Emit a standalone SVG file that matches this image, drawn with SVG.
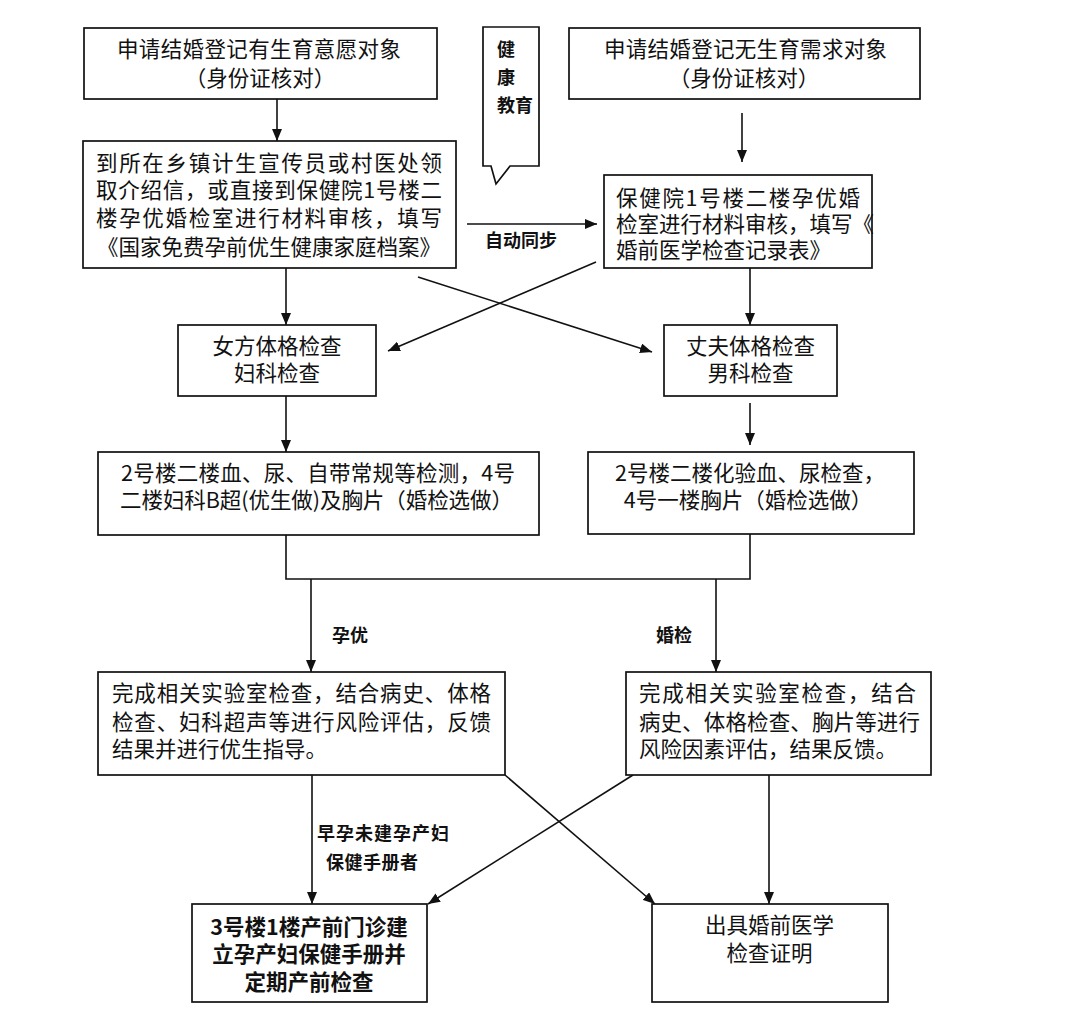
<svg xmlns="http://www.w3.org/2000/svg" width="1071" height="1020" viewBox="0 0 1071 1020">
<style>
  .box { fill: #ffffff; stroke: #111111; stroke-width: 1.7; }
  .t { font-family: "Noto Sans CJK SC", "Noto Sans", sans-serif; font-size: 21.5px; fill: #111111; }
  .c { text-anchor: middle; }
  .b { font-family: "Noto Sans CJK SC", "Noto Sans", sans-serif; font-size: 18px; font-weight: bold; fill: #111111; }
  .bb { font-family: "Noto Sans CJK SC", "Noto Sans", sans-serif; font-size: 21.5px; font-weight: bold; fill: #111111; text-anchor: middle; }
  .ln { fill: none; stroke: #111111; stroke-width: 1.6; }
  .ar { fill: none; stroke: #111111; stroke-width: 1.6; marker-end: url(#ah); }
</style>
<defs>
  <marker id="ah" viewBox="0 0 12 10" refX="12" refY="5" markerWidth="12" markerHeight="10" markerUnits="userSpaceOnUse" orient="auto">
    <path d="M0,0 L12,5 L0,10 z" fill="#111111"/>
  </marker>
</defs>
<rect width="1071" height="1020" fill="#ffffff"/>

<g id="connectors">
  <line class="ar" x1="277" y1="99" x2="277" y2="141"/>
  <line class="ar" x1="742" y1="113" x2="742" y2="162"/>
  <line class="ar" x1="467" y1="224" x2="597" y2="224"/>
  <line class="ar" x1="286" y1="268" x2="286" y2="325"/>
  <line class="ar" x1="750" y1="268" x2="750" y2="325"/>
  <line class="ar" x1="418" y1="277" x2="652" y2="352"/>
  <line class="ar" x1="596" y1="262" x2="388" y2="351"/>
  <line class="ar" x1="286" y1="396" x2="286" y2="452"/>
  <line class="ar" x1="750" y1="403" x2="750" y2="445"/>
  <polyline class="ln" points="286,535 286,579 750,579 750,534"/>
  <line class="ar" x1="311" y1="579" x2="311" y2="672"/>
  <line class="ar" x1="716" y1="579" x2="716" y2="672"/>
  <line class="ar" x1="312" y1="775" x2="312" y2="904"/>
  <line class="ar" x1="505" y1="775" x2="655" y2="904"/>
  <line class="ar" x1="633" y1="775" x2="428" y2="904"/>
  <line class="ar" x1="769" y1="775" x2="769" y2="904"/>
  <text class="b" x="485" y="247" textLength="72">自动同步</text>
  <text class="b" x="332" y="642">孕优</text>
  <text class="b" x="656" y="642">婚检</text>
  <text class="b" x="317" y="840" textLength="132">早孕未建孕产妇</text>
  <text class="b" x="326" y="868.5" textLength="92">保健手册者</text>
</g>

<g id="n1">
  <rect class="box" x="84" y="28" width="353" height="71"/>
  <text class="t" x="117" y="57" textLength="284">申请结婚登记有生育意愿对象</text>
  <text class="t c" x="260" y="86">（身份证核对）</text>
</g>

<g id="n-health">
  <path class="box" d="M483,27 L539,27 L539,166 L510,166 L496,184 L491,166 L483,166 Z"/>
  <text class="b" x="497" y="56">健</text>
  <text class="b" x="497" y="84">康</text>
  <text class="b" x="497" y="112">教育</text>
</g>

<g id="n2">
  <rect class="box" x="569" y="28" width="351" height="71"/>
  <text class="t" x="604" y="57" textLength="283">申请结婚登记无生育需求对象</text>
  <text class="t c" x="744" y="86">（身份证核对）</text>
</g>

<g id="n3">
  <rect class="box" x="83" y="141" width="373" height="127"/>
  <text class="t" x="96" y="171" textLength="346">到所在乡镇计生宣传员或村医处领</text>
  <text class="t" x="96" y="198" textLength="346">取介绍信，或直接到保健院1号楼二</text>
  <text class="t" x="96" y="226" textLength="346">楼孕优婚检室进行材料审核，填写</text>
  <text class="t" x="97" y="254.5" textLength="344">《国家免费孕前优生健康家庭档案》</text>
</g>

<g id="n4">
  <rect class="box" x="604" y="175" width="268" height="93"/>
  <text class="t" x="616" y="206" textLength="244">保健院1号楼二楼孕优婚</text>
  <text class="t" x="616" y="232" textLength="258">检室进行材料审核，填写《</text>
  <text class="t" x="616" y="258">婚前医学检查记录表》</text>
</g>

<g id="n5">
  <rect class="box" x="178" y="325" width="198" height="71"/>
  <text class="t c" x="277" y="354">女方体格检查</text>
  <text class="t c" x="277" y="381">妇科检查</text>
</g>

<g id="n6">
  <rect class="box" x="664" y="325" width="173" height="71"/>
  <text class="t c" x="750.5" y="354">丈夫体格检查</text>
  <text class="t c" x="750.5" y="381">男科检查</text>
</g>

<g id="n7">
  <rect class="box" x="98" y="452" width="441" height="83"/>
  <text class="t" x="121" y="481" textLength="394">2号楼二楼血、尿、自带常规等检测，4号</text>
  <text class="t" x="120" y="508" textLength="393">二楼妇科B超(优生做)及胸片（婚检选做）</text>
</g>

<g id="n8">
  <rect class="box" x="588" y="452" width="326" height="82"/>
  <text class="t c" x="750" y="481">2号楼二楼化验血、尿检查，</text>
  <text class="t c" x="748" y="508">4号一楼胸片（婚检选做）</text>
</g>

<g id="n9">
  <rect class="box" x="98" y="672" width="407" height="103"/>
  <text class="t" x="112" y="701" textLength="379">完成相关实验室检查，结合病史、体格</text>
  <text class="t" x="112" y="729.5" textLength="379">检查、妇科超声等进行风险评估，反馈</text>
  <text class="t" x="112" y="757">结果并进行优生指导。</text>
</g>

<g id="n10">
  <rect class="box" x="626" y="672" width="305" height="103"/>
  <text class="t" x="639" y="701" textLength="277">完成相关实验室检查，结合</text>
  <text class="t" x="639" y="729.5" textLength="281">病史、体格检查、胸片等进行</text>
  <text class="t" x="639" y="757">风险因素评估，结果反馈。</text>
</g>

<g id="n11">
  <rect class="box" x="192" y="904" width="235" height="98"/>
  <text class="bb" x="309" y="934.7">3号楼1楼产前门诊建</text>
  <text class="bb" x="309" y="962">立孕产妇保健手册并</text>
  <text class="bb" x="309" y="989.7">定期产前检查</text>
</g>

<g id="n12">
  <rect class="box" x="652" y="904" width="236" height="98"/>
  <text class="t c" x="769.5" y="933">出具婚前医学</text>
  <text class="t c" x="769.5" y="960.7">检查证明</text>
</g>
</svg>
